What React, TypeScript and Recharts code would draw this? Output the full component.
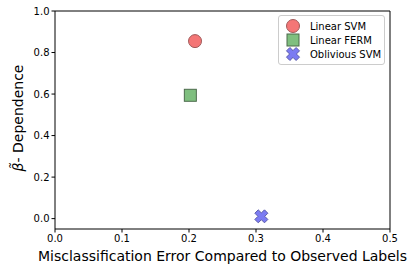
import React from "react";
import { ScatterChart, Scatter, XAxis, YAxis, ReferenceLine, Legend } from "recharts";

const seriesNames = ["Linear SVM", "Linear FERM", "Oblivious SVM"];
const errorValues = [0.209, 0.202, 0.308];
const dependenceValues = [0.855, 0.594, 0.011];
const xTicks = [0, 0.1, 0.2, 0.3, 0.4, 0.5];
const yTicks = [0, 0.2, 0.4, 0.6, 0.8, 1.0];

const fills = ["#f47676", "#7fbf7f", "#7b7bf2"];
const strokes = ["#a05a5a", "#4d6b4d", "#5c5cab"];
const FONT = "DejaVu Sans, sans-serif";

const markerShape = (kind: number, cx: number, cy: number) => {
  if (kind === 0) {
    return <circle cx={cx} cy={cy} r={6.5} fill={fills[0]} stroke={strokes[0]} strokeWidth={1} />;
  }
  if (kind === 1) {
    return <rect x={cx - 6} y={cy - 6} width={12} height={12} fill={fills[1]} stroke={strokes[1]} strokeWidth={1} />;
  }
  const s = 6.8, a = 2.4;
  const base = [[a, s], [a, a], [s, a], [s, -a], [a, -a], [a, -s], [-a, -s], [-a, -a], [-s, -a], [-s, a], [-a, a], [-a, s]];
  const c = Math.SQRT1_2;
  const pts = base.map(([px, py]) => `${cx + (px - py) * c},${cy + (px + py) * c}`).join(" ");
  return <polygon points={pts} fill={fills[2]} stroke={strokes[2]} strokeWidth={1} strokeLinejoin="round" />;
};

const data = seriesNames.map((_, i) => [{ x: errorValues[i], y: dependenceValues[i] }]);

const LegendBox = () => (
  <div
    style={{
      border: "1px solid #cccccc",
      borderRadius: 3,
      background: "rgba(255,255,255,0.8)",
      padding: "3px 4px 3px 6px",
      fontFamily: FONT,
      fontSize: 10,
      color: "#000",
      width: 95,
      boxSizing: "content-box",
    }}
  >
    {seriesNames.map((name, i) => (
      <div key={name} style={{ display: "flex", alignItems: "center", height: 14 }}>
        <svg width={16} height={14} style={{ marginRight: 9, flex: "none" }}>
          {markerShape(i, 8, 7)}
        </svg>
        <span style={{ whiteSpace: "nowrap" }}>{name}</span>
      </div>
    ))}
  </div>
);

const YLabel = (props: any) => {
  const vb = props.viewBox || {};
  const x = vb.x + 18;
  const y = vb.y + vb.height / 2 - 2;
  return (
    <text
      x={x}
      y={y}
      transform={`rotate(-90, ${x}, ${y})`}
      textAnchor="middle"
      dominantBaseline="central"
      fontFamily={FONT}
      fontSize={14}
      fill="#000"
    >
      <tspan fontStyle="italic">β̃</tspan>
      <tspan>- Dependence</tspan>
    </text>
  );
};

const XLabel = (props: any) => {
  const vb = props.viewBox || {};
  return (
    <text
      x={vb.x + vb.width / 2}
      y={vb.y + 27}
      textAnchor="middle"
      dominantBaseline="central"
      fontFamily={FONT}
      fontSize={14}
      fill="#000"
    >
      Misclassification Error Compared to Observed Labels
    </text>
  );
};

export default function App() {
  return (
    <div style={{ position: "absolute", left: 0, top: 0, background: "#fff" }}>
      <ScatterChart width={415} height={270} margin={{ top: 11, right: 25, bottom: 0, left: 0 }}>
        <XAxis
          type="number"
          dataKey="x"
          domain={[0, 0.5]}
          ticks={xTicks}
          allowDataOverflow
          height={41}
          tickSize={3.5}
          tickMargin={2}
          tickFormatter={(v: number) => v.toFixed(1)}
          tick={{ fontFamily: FONT, fontSize: 10, fill: "#000" }}
          axisLine={{ stroke: "#000" }}
          tickLine={{ stroke: "#000" }}
          label={{ content: XLabel }}
        />
        <YAxis
          type="number"
          dataKey="y"
          domain={[-0.05, 1.0]}
          ticks={yTicks}
          allowDataOverflow
          width={55}
          tickSize={3.5}
          tickMargin={2}
          tickFormatter={(v: number) => v.toFixed(1)}
          tick={{ fontFamily: FONT, fontSize: 10, fill: "#000" }}
          axisLine={{ stroke: "#000" }}
          tickLine={{ stroke: "#000" }}
          label={{ content: YLabel }}
        />
        <ReferenceLine y={1.0} stroke="#000" />
        <ReferenceLine x={0.5} stroke="#000" />
        {seriesNames.map((name, i) => (
          <Scatter
            key={name}
            name={name}
            data={data[i]}
            isAnimationActive={false}
            shape={(p: any) => markerShape(i, p.cx, p.cy)}
          />
        ))}
        <Legend
          layout="vertical"
          align="center"
          verticalAlign="middle"
          content={LegendBox}
          wrapperStyle={{ left: 278, top: 15, width: "auto", height: "auto" }}
        />
      </ScatterChart>
    </div>
  );
}
